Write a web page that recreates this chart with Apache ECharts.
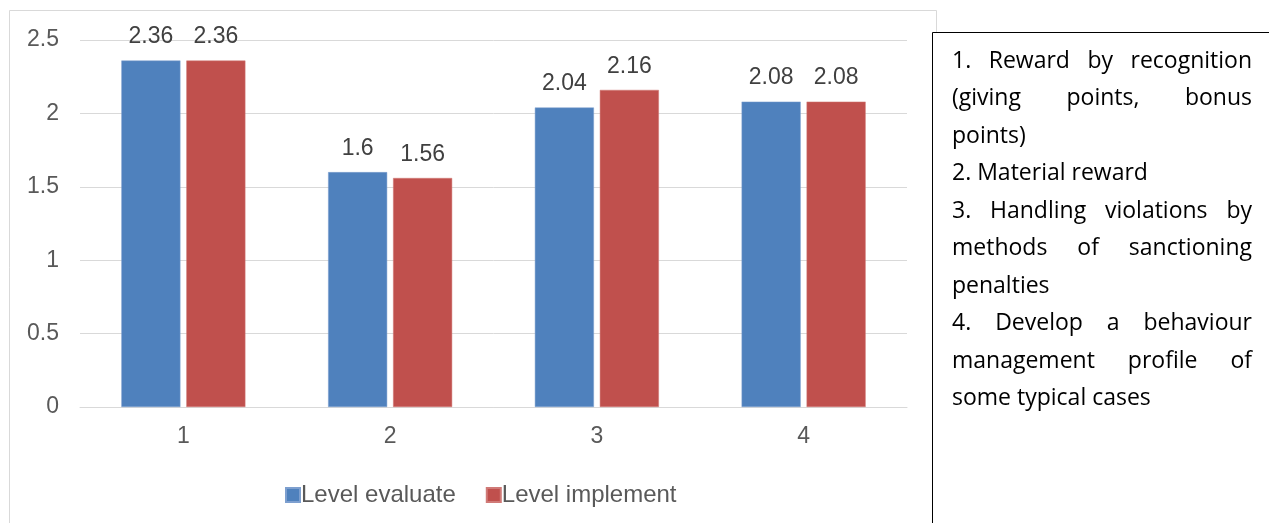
<!DOCTYPE html>
<html>
<head>
<meta charset="utf-8">
<script src="https://cdn.jsdelivr.net/npm/echarts@6/dist/echarts.min.js"></script>
<style>
  html, body { margin: 0; padding: 0; background: #fff; }
  #chart { width: 1269px; height: 523px; }
</style>
</head>
<body>
<div id="chart"></div>
<script>
// Categories and series values
const categories = ['1', '2', '3', '4'];
const levelEvaluate = [2.36, 1.6, 2.04, 2.08];
const levelImplement = [2.36, 1.56, 2.16, 2.08];
const seriesNames = ['Level evaluate', 'Level implement'];

// Notes shown in the side box, one array of lines per paragraph
const notes = [
  ['1. Reward by recognition', '(giving points, bonus', 'points)'],
  ['2. Material reward'],
  ['3. Handling violations by', 'methods of sanctioning', 'penalties'],
  ['4. Develop a behaviour', 'management profile of', 'some typical cases']
];

const chart = echarts.init(document.getElementById('chart'));

// Lay out the side notes as justified text (last line of a paragraph left-aligned)
const noteFont = '23px "Open Sans"';
const ctx = document.createElement('canvas').getContext('2d');
ctx.font = noteFont;
const boxLeft = 952, boxRight = 1252, firstLineY = 61, lineStep = 37.5;
const noteGraphics = [];
let lineIdx = 0;
notes.forEach(par => {
  par.forEach((line, i) => {
    const y = firstLineY + lineIdx * lineStep;
    const words = line.split(' ');
    const isLast = i === par.length - 1;
    const mk = (text, x) => ({ type: 'text', x: x, y: y, silent: true,
      style: { text: text, font: noteFont, fill: '#000', verticalAlign: 'middle', align: 'left' } });
    if (isLast || words.length < 2) {
      noteGraphics.push(mk(line, boxLeft));
    } else {
      const widths = words.map(w => ctx.measureText(w).width);
      const total = widths.reduce((a, b) => a + b, 0);
      const gap = (boxRight - boxLeft - total) / (words.length - 1);
      let x = boxLeft;
      words.forEach((w, k) => {
        noteGraphics.push(mk(w, x));
        x += widths[k] + gap;
      });
    }
    lineIdx++;
  });
});

const labelStyle = {
  show: true, position: 'top', distance: 12,
  color: '#404040', fontSize: 23, fontFamily: 'Liberation Sans'
};

chart.setOption({
  animation: false,
  backgroundColor: '#fff',
  textStyle: { fontFamily: 'Liberation Sans' },
  grid: { left: 80, right: 362, top: 40, bottom: 116 },
  legend: {
    data: seriesNames,
    left: 280, top: 478,
    itemWidth: 14, itemHeight: 14, itemGap: 30,
    icon: 'rect',
    textStyle: { color: '#595959', fontSize: 24, fontFamily: 'Liberation Sans', padding: [0, 0, 0, -4] }
  },
  xAxis: {
    type: 'category',
    data: categories,
    axisLine: { lineStyle: { color: '#d9d9d9' } },
    axisTick: { show: false },
    axisLabel: { color: '#595959', fontSize: 23, margin: 18 }
  },
  yAxis: {
    type: 'value',
    min: 0, max: 2.5, interval: 0.5,
    axisLine: { show: false },
    axisTick: { show: false },
    axisLabel: { color: '#595959', fontSize: 23, margin: 21 },
    splitLine: { lineStyle: { color: '#d9d9d9' } }
  },
  series: [
    {
      name: seriesNames[0], type: 'bar', data: levelEvaluate,
      barGap: '10%', barCategoryGap: '40%',
      itemStyle: { color: '#4F81BD', borderColor: '#7d9fcf', borderWidth: 0.5 },
      label: labelStyle
    },
    {
      name: seriesNames[1], type: 'bar', data: levelImplement,
      itemStyle: { color: '#C0504D', borderColor: '#d07a77', borderWidth: 0.5 },
      label: labelStyle
    }
  ],
  graphic: [
    { type: 'rect', shape: { x: 9.5, y: 10.5, width: 927, height: 520 },
      style: { fill: null, stroke: '#d9d9d9', lineWidth: 1 }, silent: true },
    { type: 'rect', shape: { x: 932.5, y: 32.5, width: 345, height: 500 },
      style: { fill: '#fff', stroke: '#000', lineWidth: 1 }, silent: true }
  ].concat(noteGraphics)
});
</script>
</body>
</html>
